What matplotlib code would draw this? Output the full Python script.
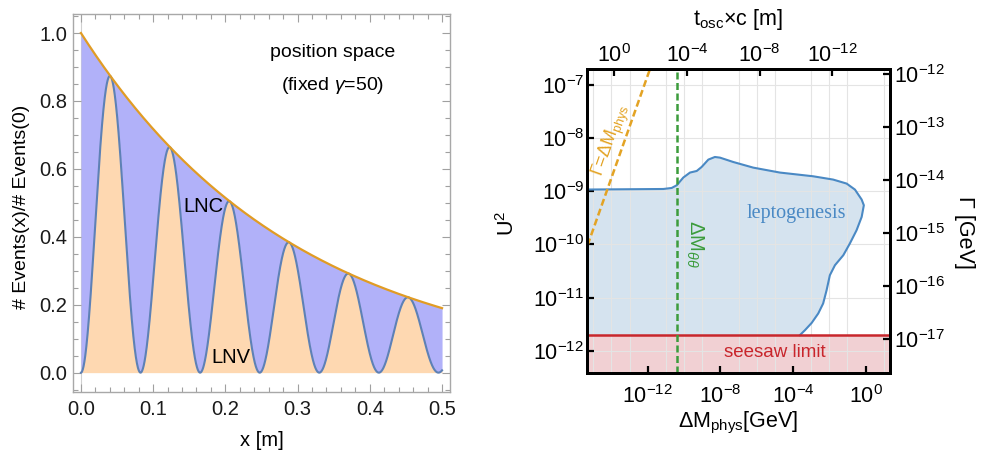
import numpy as np
import matplotlib
matplotlib.use('Agg')
import matplotlib.pyplot as plt
from matplotlib.ticker import FixedLocator, MultipleLocator, FormatStrFormatter, NullLocator, NullFormatter

plt.rcParams['font.family'] = ['Liberation Sans', 'DejaVu Sans']
plt.rcParams['mathtext.fontset'] = 'custom'
plt.rcParams['mathtext.rm'] = 'Liberation Sans'
plt.rcParams['mathtext.it'] = 'Liberation Sans:italic'
plt.rcParams['mathtext.bf'] = 'Liberation Sans:bold'

# ---------------- left panel data ----------------
decay_length_m = 0.301      # envelope falls to ~0.19 at x = 0.5 m
osc_period_m = 0.0825       # LNV zeros at 0, 0.0825, 0.165, ...
x_range_m = [0.0, 0.5]
left_xticks = [0.0, 0.1, 0.2, 0.3, 0.4, 0.5]
left_yticks = [0.0, 0.2, 0.4, 0.6, 0.8, 1.0]

# ---------------- right panel data (log10 values) ----------------
lep_log_dm = [-15.6, -11.14, -10.68, -10.40, -10.04, -9.67, -9.30, -9.03, -8.66, -8.30,
              -8.02, -7.29, -6.19, -4.72, -2.89, -1.79, -1.05, -0.59, -0.22, -0.10,
              -0.22, -0.50, -0.87, -1.23, -1.69, -1.97, -2.15, -2.34, -2.61, -2.97,
              -3.34, -3.62]
lep_log_u2 = [-8.968, -8.957, -8.938, -8.887, -8.742, -8.648, -8.618, -8.543, -8.404, -8.355,
              -8.367, -8.449, -8.555, -8.648, -8.718, -8.780, -8.855, -8.968, -9.156, -9.263,
              -9.483, -9.733, -9.983, -10.203, -10.391, -10.579, -10.861, -11.111, -11.299, -11.476,
              -11.613, -11.707]
seesaw_log_u2 = -11.71
dm_thetatheta_log = -10.37
gamma_eq_log_dm = [-15.5, -11.80]
gamma_eq_log_u2 = [-10.20, -6.63]
bottom_ticks_log = [-12, -8, -4, 0]
left_ticks_log = [-12, -11, -10, -9, -8, -7]
top_ticks_log = [0, -4, -8, -12]
right_ticks_log = [-17, -16, -15, -14, -13, -12]
grid_dm_log = list(range(-16, 3))
tosc_offset_log = -13.84     # log10(t_osc c) = offset - log10(dM)
gamma_offset_log = -5.215    # log10(Gamma) = log10(U^2) + offset
xlim_log = [-15.34, 1.34]
ylim_log = [-12.425, -6.705]

W, H = 984, 455
fig = plt.figure(figsize=(W / 100, H / 100), dpi=100)

def fx(px):
    return px / W

def fy(py):
    return 1 - py / H

# ================= LEFT PANEL =================
axL = fig.add_axes([fx(73), fy(392), (450 - 73) / W, (392 - 14) / H])
x = np.linspace(x_range_m[0], x_range_m[1], 3000)
env = np.exp(-x / decay_length_m)
lnv = env * np.sin(np.pi * x / osc_period_m) ** 2

c_lnc_fill = '#b1b1f9'
c_lnv_fill = '#fed8b1'
c_blue = '#5e81b5'
c_orange = '#e19c24'

axL.axvline(0, color='#d0d0d0', lw=0.8, zorder=0.5)
axL.fill_between(x, 0, lnv, color=c_lnv_fill, lw=0, zorder=1)
axL.fill_between(x, lnv, env, color=c_lnc_fill, lw=0, zorder=1)
axL.plot(x, lnv, color=c_blue, lw=1.5, zorder=3)
axL.plot(x, env, color=c_orange, lw=1.6, zorder=3)

axL.set_xlim(-0.011, 0.511)
axL.set_ylim(-0.057, 1.056)
axL.xaxis.set_major_locator(FixedLocator(left_xticks))
axL.yaxis.set_major_locator(FixedLocator(left_yticks))
axL.xaxis.set_minor_locator(MultipleLocator(0.02))
axL.yaxis.set_minor_locator(MultipleLocator(0.05))
axL.xaxis.set_major_formatter(FormatStrFormatter('%.1f'))
axL.yaxis.set_major_formatter(FormatStrFormatter('%.1f'))
axL.tick_params(which='both', direction='in', top=True, right=True, color='#a0a0a0', width=0.8)
axL.tick_params(which='major', length=6, labelsize=14.5, labelcolor='#1a1a1a')
axL.tick_params(which='minor', length=3.5)
axL.tick_params(axis='x', which='major', pad=6)
axL.tick_params(axis='y', which='major', pad=4)
for s in axL.spines.values():
    s.set_color('#a8a8a8')
    s.set_linewidth(1.0)

axL.text(0.349, 0.944, 'position space', ha='center', va='center', fontsize=14)
axL.text(0.349, 0.845, '(fixed $\\mathit{\\gamma}$=50)', ha='center', va='center', fontsize=14)
axL.text(0.169, 0.488, 'LNC', ha='center', va='center', fontsize=14.5, zorder=4)
axL.text(0.208, 0.046, 'LNV', ha='center', va='center', fontsize=14.5, zorder=4)

fig.text(fx(262), fy(440), 'x [m]', ha='center', va='center', fontsize=14.5)
fig.text(fx(22), fy(207), '# Events(x)/# Events(0)', ha='center', va='center',
         rotation=90, fontsize=14)

# ================= RIGHT PANEL =================
axR = fig.add_axes([fx(587), fy(373.3), (890 - 587) / W, (373.3 - 69.3) / H])
axR.set_xscale('log')
axR.set_yscale('log')
axR.set_xlim(10 ** xlim_log[0], 10 ** xlim_log[1])
axR.set_ylim(10 ** ylim_log[0], 10 ** ylim_log[1])

c_lep_line = '#4a89c4'
c_lep_fill = '#d5e3ef'
c_red = '#c8262c'
c_pink = '#f1d0d3'
c_green = '#3c9c3c'
c_dorange = '#e3a324'

dm = 10 ** np.array(lep_log_dm)
u2 = 10 ** np.array(lep_log_u2)
seesaw = 10 ** seesaw_log_u2
poly_x = np.concatenate([dm, [dm[-1], dm[0]]])
poly_y = np.concatenate([u2, [seesaw, seesaw]])
axR.fill(poly_x, poly_y, color=c_lep_fill, lw=0, zorder=1)
axR.plot(dm, u2, color=c_lep_line, lw=1.5, zorder=3)

axR.axhspan(10 ** ylim_log[0], seesaw, color=c_pink, lw=0, zorder=1)
axR.axhline(seesaw, color=c_red, lw=1.8, zorder=3)

axR.axvline(10 ** dm_thetatheta_log, color=c_green, lw=1.8, dashes=(2.8, 1.4), zorder=4)
axR.plot(10 ** np.array(gamma_eq_log_dm), 10 ** np.array(gamma_eq_log_u2), color=c_dorange,
         lw=1.8, dashes=(2.8, 1.4), zorder=4)

axR.xaxis.set_major_locator(FixedLocator([10.0 ** e for e in bottom_ticks_log]))
axR.set_xticklabels(['$10^{%d}$' % e for e in bottom_ticks_log])
axR.yaxis.set_major_locator(FixedLocator([10.0 ** e for e in left_ticks_log]))
axR.set_yticklabels(['$10^{%d}$' % e for e in left_ticks_log])
axR.xaxis.set_minor_locator(FixedLocator([10.0 ** e for e in grid_dm_log]))
axR.xaxis.set_minor_formatter(NullFormatter())
axR.yaxis.set_minor_locator(NullLocator())
axR.grid(True, which='minor', axis='x', color='#e4e4e4', lw=0.8, zorder=2)
axR.grid(True, which='major', axis='y', color='#e4e4e4', lw=0.8, zorder=2)
axR.set_axisbelow(False)
axR.tick_params(which='minor', length=0)
axR.tick_params(which='major', direction='in', length=5, width=1.6, labelsize=15.5,
                color='black', labelcolor='black')
axR.tick_params(axis='x', which='major', pad=8.5)
axR.tick_params(axis='y', which='major', pad=2)
for s in axR.spines.values():
    s.set_linewidth(2.0)
    s.set_color('black')

# top twin axis: t_osc * c
axT = axR.twiny()
axT.set_xscale('log')
axT.set_xlim(10 ** (tosc_offset_log - xlim_log[0]), 10 ** (tosc_offset_log - xlim_log[1]))
axT.xaxis.set_major_locator(FixedLocator([10.0 ** e for e in top_ticks_log]))
axT.set_xticklabels(['$10^{%d}$' % e for e in top_ticks_log])
axT.xaxis.set_minor_locator(NullLocator())
axT.tick_params(which='major', direction='in', length=5, width=1.6, labelsize=15.5, pad=1.5)
for s in axT.spines.values():
    s.set_linewidth(2.0)

# right twin axis: Gamma
axG = axR.twinx()
axG.set_yscale('log')
axG.set_ylim(10 ** (ylim_log[0] + gamma_offset_log), 10 ** (ylim_log[1] + gamma_offset_log))
axG.yaxis.set_major_locator(FixedLocator([10.0 ** e for e in right_ticks_log]))
axG.set_yticklabels(['$10^{%d}$' % e for e in right_ticks_log])
axG.yaxis.set_minor_locator(NullLocator())
axG.tick_params(which='major', direction='in', length=5, width=1.6, labelsize=15.5, pad=3)
for s in axG.spines.values():
    s.set_linewidth(2.0)

axR.text(10 ** -3.84, 10 ** -9.41, 'leptogenesis', ha='center', va='center', color=c_lep_line,
         fontsize=14.5, family=['Liberation Serif', 'DejaVu Serif'], zorder=5)
axR.text(10 ** -4.99, 10 ** -12.03, 'seesaw limit', ha='center', va='center', color=c_red,
         fontsize=13.5, zorder=5)
axR.text(10 ** -9.40, 10 ** -9.98, '$\\Delta$M$_{\\mathit{\\theta\\theta}}$', ha='center',
         va='center', color=c_green, fontsize=14.5, rotation=-90, zorder=5)
axR.text(10 ** -13.99, 10 ** -8.04, '$\\Gamma$=$\\Delta$M$_{\\mathrm{phys}}$', ha='center',
         va='center', color=c_dorange, fontsize=13, rotation=70.5, zorder=5)

fig.text(fx(738), fy(423), '$\\Delta$M$_{\\mathrm{phys}}$[GeV]', ha='center', va='center', fontsize=15.5)
fig.text(fx(738), fy(20), 't$_{\\mathrm{osc}}$\u00d7c [m]', ha='center', va='center', fontsize=15.5)
fig.text(fx(508), fy(223), 'U$^2$', ha='center', va='center', rotation=90, fontsize=15.5)
fig.text(fx(965), fy(232), '\u0393 [GeV]', ha='center', va='center', rotation=-90, fontsize=15.5)

fig.savefig('out.png', dpi=100)
